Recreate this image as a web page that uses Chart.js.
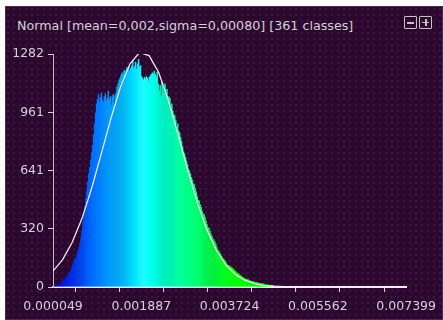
<!DOCTYPE html>
<html>
<head>
<meta charset="utf-8">
<script src="https://cdn.jsdelivr.net/npm/chart.js@4.4.1/dist/chart.umd.min.js"></script>
<style>
  html, body { margin: 0; padding: 0; background: #ffffff; }
  #stage { position: relative; width: 443px; height: 320px; overflow: hidden; background: #ffffff; }
  #panel { position: absolute; left: 5px; top: 6px; right: 0; bottom: 0; background-color: #2c0830;
    background-image: radial-gradient(rgba(130,90,140,0.28) 0.6px, transparent 0.9px);
    background-size: 6px 6px; box-shadow: inset 0 0 0 1px #4a2a50; }
  #title { position: absolute; left: 17px; top: 18px; font: 12.7px "DejaVu Sans", sans-serif; color: #d8d0d8; white-space: nowrap; }
  .btn { position: absolute; top: 16px; width: 11px; height: 11px; border: 1px solid #c8c0c8; border-radius: 1px; }
  #b1 { left: 404px; } #b2 { left: 419px; }
  .bar { position: absolute; background: #c8c0c8; }
  canvas { position: absolute; left: 0; top: 0; }
</style>
</head>
<body>
<div id="stage">
  <div id="panel"></div>
  <div id="title">Normal [mean=0,002,sigma=0,00080] [361 classes]</div>
  <div class="btn" id="b1"><div class="bar" style="left:2px;top:5px;width:7px;height:2px"></div></div>
  <div class="btn" id="b2"><div class="bar" style="left:5px;top:2px;width:2px;height:7px"></div><div class="bar" style="left:2px;top:5px;width:7px;height:1px"></div></div>
  <canvas id="c" width="443" height="320"></canvas>
</div>
<script>
// ---- data ----
const classCount = 361;
const xMin = 0.000049;
const xMax = 0.007399;
// histogram counts per class (classes beyond the list are empty)
const counts = [
  3,5,8,10,12,15,18,22,
  28,32,38,42,48,
  55,62,70,78,85,
  100,115,130,145,160,
  160,180,200,220,240,
  270,310,360,
  400,445,490,530,
  580,625,660,
  700,740,780,
  840,900,960,1010,
  1035,1060,1020,1045,1070,1030,1015,1050,1065,1025,1040,1080,1030,
  1050,1000,1045,1060,1010,1055,1070,
  1100,1120,1140,1150,1165,1180,1170,1190,
  1195,1185,1210,1200,1215,1190,1205,
  1220,1250,1205,1215,1240,1200,1230,1255,1210,1220,
  1160,1150,1140,1155,1145,1160,1150,1135,1155,1165,1170,
  1180,1175,1190,1170,1160,1185,
  1120,1080,1110,1050,1130,1100,1070,
  1120,1060,1090,1030,1050,
  1040,990,1010,970,950,
  945,920,880,900,860,
  850,825,800,775,745,
  735,715,695,675,650,
  640,625,605,590,570,
  565,545,525,500,480,
  475,455,440,420,405,
  400,385,365,345,330,
  325,310,295,280,265,
  262,250,238,222,205,
  200,190,180,170,160,
  155,148,140,130,122,
  120,118,110,112,104,
  100,95,88,84,78,
  76,70,66,60,56,
  54,50,47,45,43,
  42,38,36,34,33,
  32,30,29,27,26,
  25,24,22,21,20,
  19,18,16,15,14,
  13,12,11,10,9,
  8,7,7,6,5,
  5,4,4,3,3,2,2,2,1,1,1,1
];
// fitted normal curve, sampled every curveStep from xMin
const curveStep = 0.0002;
const curveValues = [87,151,246,375,539,728,922,1097,1227,1290,1273,1180,1028,841,646,467,317,202,121,68,36,18,8,4,2,1,0,0,0,0,0,0,0,0,0,0,0,0];
// axis ticks
const yTickValues = [0, 320.5, 641, 961.5, 1282];
const yTickLabels = ["0", "320", "641", "961", "1282"];
const xTickCount = 9;
const xTickLabels = ["0.000049", "", "0.001887", "", "0.003724", "", "0.005562", "", "0.007399"];

// ---- build ----
const classWidth = (xMax - xMin) / classCount;
const barData = counts.map((v, i) => ({ x: xMin + (i + 0.5) * classWidth, y: v }));
const curveData = curveValues.map((v, k) => ({ x: xMin + k * curveStep, y: v }));
const xStep = (xMax - xMin) / (xTickCount - 1);
const xTickValues = Array.from({ length: xTickCount }, (_, k) => xMin + k * xStep);

function classColor(i) {
  const hue = Math.max(120, 240 - i * 0.64);
  let light = i < 40 ? 43 + i * 0.18 : 50;
  light += 5 * Math.exp(-Math.pow((i - 92) / 6, 2));
  return 'hsl(' + hue.toFixed(1) + ',100%,' + light.toFixed(1) + '%)';
}

const textColor = '#d8d0d8';
const font = { family: '"DejaVu Sans", sans-serif', size: 12.5 };

new Chart(document.getElementById('c'), {
  data: {
    datasets: [
      {
        type: 'line', data: curveData, borderColor: '#f2e8f2', borderWidth: 1.3,
        pointRadius: 0, tension: 0, order: 0
      },
      {
        type: 'bar', data: barData, backgroundColor: ctx => classColor(ctx.dataIndex),
        borderWidth: 0, barPercentage: 1.5, categoryPercentage: 1, grouped: false, order: 1
      }
    ]
  },
  options: {
    responsive: false,
    devicePixelRatio: 1,
    animation: false,
    layout: { padding: { top: 54, right: 34, left: 0, bottom: 0 } },
    plugins: { legend: { display: false }, tooltip: { enabled: false }, title: { display: false } },
    scales: {
      x: {
        type: 'linear', min: xMin, max: xMax, offset: false,
        afterBuildTicks: s => { s.ticks = xTickValues.map(v => ({ value: v })); },
        afterFit: s => { s.height = 33; },
        ticks: { color: textColor, font: font, padding: 7, maxRotation: 0, autoSkip: false,
          callback: (v, idx) => xTickLabels[idx] },
        grid: { display: true, drawOnChartArea: false, drawTicks: true, tickLength: 5, color: textColor, lineWidth: 1 },
        border: { display: true, color: '#f4eef4', width: 2 }
      },
      y: {
        type: 'linear', min: 0, max: 1282,
        afterBuildTicks: s => { s.ticks = yTickValues.map(v => ({ value: v })); },
        afterFit: s => { s.width = 53; },
        ticks: { color: textColor, font: font, padding: 4, autoSkip: false,
          callback: (v, idx) => yTickLabels[idx] },
        grid: { display: true, drawOnChartArea: false, drawTicks: true, tickLength: 5, color: textColor, lineWidth: 1 },
        border: { display: true, color: '#c8bcc8', width: 1 }
      }
    }
  }
});
</script>
</body>
</html>
